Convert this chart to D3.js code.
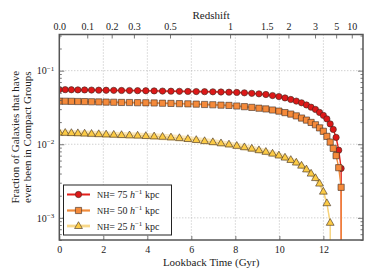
<!DOCTYPE html>
<html><head><meta charset="utf-8">
<script src="https://cdn.jsdelivr.net/npm/d3@7"></script>
<style>
html,body{margin:0;padding:0;background:#fff;}
text{font-family:"Liberation Serif","DejaVu Serif",serif;fill:#222;}
</style></head>
<body><svg id="c" width="374" height="280"></svg>
<script>
// Lookback time (Gyr) of each snapshot
const times = [0, 0.269, 0.550, 0.844, 1.149, 1.465, 1.792, 2.128, 2.474, 2.828, 3.190, 3.558, 3.932, 4.310, 4.691, 5.074, 5.458, 5.842, 6.223, 6.602, 6.977, 7.347, 7.709, 8.064, 8.410, 8.746, 9.072, 9.386, 9.689, 9.978, 10.255, 10.519, 10.769, 11.007, 11.231, 11.441, 11.640, 11.825, 11.998, 12.159, 12.309, 12.448, 12.578, 12.697, 12.806, 12.907];
const nh75 = [0.0553, 0.0552, 0.0550, 0.0548, 0.0547, 0.0545, 0.0543, 0.0542, 0.0540, 0.0538, 0.0537, 0.0535, 0.0533, 0.0531, 0.0528, 0.0526, 0.0524, 0.0522, 0.0520, 0.0518, 0.0516, 0.0513, 0.0510, 0.0506, 0.0500, 0.0492, 0.0484, 0.0474, 0.0459, 0.0445, 0.0426, 0.0406, 0.0386, 0.0366, 0.0342, 0.0319, 0.0297, 0.0271, 0.0247, 0.0221, 0.0189, 0.0159, 0.0124, 0.0083, 0.0047, 0];
const nh50 = [0.0385, 0.0384, 0.0383, 0.0381, 0.0380, 0.0378, 0.0376, 0.0374, 0.0372, 0.0370, 0.0369, 0.0367, 0.0366, 0.0364, 0.0361, 0.0359, 0.0356, 0.0354, 0.0351, 0.0347, 0.0344, 0.0340, 0.0337, 0.0331, 0.0324, 0.0317, 0.0309, 0.0302, 0.0292, 0.0282, 0.0269, 0.0257, 0.0243, 0.0227, 0.0213, 0.0198, 0.0184, 0.0167, 0.0150, 0.0128, 0.0107, 0.0088, 0.0070, 0.0048, 0.0026, 0];
const nh25 = [0.01439, 0.01430, 0.01421, 0.01413, 0.01399, 0.01386, 0.01373, 0.01360, 0.01348, 0.01335, 0.01323, 0.01311, 0.01295, 0.01279, 0.01263, 0.01239, 0.01213, 0.01179, 0.01143, 0.01104, 0.01068, 0.01031, 0.00994, 0.00951, 0.00911, 0.00872, 0.00830, 0.00789, 0.00746, 0.00704, 0.00659, 0.00612, 0.00564, 0.00512, 0.00455, 0.00399, 0.00347, 0.00292, 0.00227, 0.00158, 0.000856, 0, 0, 0, 0, 0];
const seriesNames = ["75", "50", "25"];
const relErr = [0.04, 0.04, 0.1];
// top axis: redshift labels and their lookback times
const zLabels = ["0.0", "0.1", "0.2", "0.3", "0.5", "1", "1.5", "2", "3", "5", "10"];
const zTimes = [0, 1.27, 2.38, 3.39, 5.03, 7.76, 9.43, 10.41, 11.62, 12.58, 13.29];
const xTicks = [0, 2, 4, 6, 8, 10, 12];
const yMajor = [1e-3, 1e-2, 1e-1];

const svg = d3.select("#c");
const L = 59.3, R = 363, T = 34.5, B = 240;
const x = d3.scaleLinear().domain([0, 13.8]).range([L, R]);
const y = d3.scaleLog().domain([5e-4, 0.31]).range([B, T]);

const styles = [
  {line:"#e3201b", band:"#f3a3a0", fill:"#dd1818", shape:"circle"},
  {line:"#f08a3c", band:"#f7c295", fill:"#f58a3a", shape:"square"},
  {line:"#f6d27a", band:"#fbe2a6", fill:"#fccb45", shape:"triangle"}
];
const data = [nh75, nh50, nh25];

svg.append("defs").append("clipPath").attr("id","clip")
  .append("rect").attr("x",L).attr("y",T).attr("width",R-L).attr("height",B-T);

// grid
const grid = svg.append("g").attr("stroke","#b5b5b5").attr("stroke-width",0.9).attr("stroke-dasharray","1,2");
grid.selectAll("line.gx").data(xTicks.slice(1)).join("line")
  .attr("x1",d=>x(d)).attr("x2",d=>x(d)).attr("y1",T).attr("y2",B);
grid.selectAll("line.gy").data(yMajor).join("line")
  .attr("x1",L).attr("x2",R).attr("y1",d=>y(d)).attr("y2",d=>y(d));

const yv = v => v > 0 ? y(v) : B + 1000;
const plot = svg.append("g").attr("clip-path","url(#clip)");

function markerPath(shape){
  if(shape==="circle") return d3.symbol(d3.symbolCircle, Math.PI*3.15*3.15)();
  if(shape==="square") return d3.symbol(d3.symbolSquare, 6.2*6.2)();
  return `M0,${-4.3}L${3.9},${2.5}L${-3.9},${2.5}Z`;
}

data.forEach((vals, si) => {
  const st = styles[si], e = relErr[si];
  const pts = times.map((t,i)=>({t, v: vals[i], i}));
  const def = d => d.v > 0 || (d.i>0 && vals[d.i-1] > 0);
  const area = d3.area().defined(def).x(d=>x(d.t))
    .y0(d=>yv(d.v*(1-e))).y1(d=>yv(d.v*(1+e)));
  plot.append("path").datum(pts).attr("d",area).attr("fill",st.band).attr("opacity",0.75);
  const line = d3.line().defined(def).x(d=>x(d.t)).y(d=>yv(d.v));
  plot.append("path").datum(pts).attr("d",line).attr("fill","none")
    .attr("stroke",st.line).attr("stroke-width",1.4);
  plot.selectAll(null).data(pts.filter(d=>d.v>0)).join("path")
    .attr("d", markerPath(st.shape))
    .attr("transform",d=>`translate(${x(d.t)},${y(d.v)})`)
    .attr("fill",st.fill).attr("stroke","#3a2a22").attr("stroke-width",0.6);
});

// axes
const axisCol = "#555";
function styleAxis(g){
  g.select(".domain").remove();
  g.selectAll(".tick line").attr("stroke",axisCol).attr("stroke-width",0.8);
  g.selectAll(".tick text").attr("font-size","10px").attr("fill","#222");
}
svg.append("g").attr("transform",`translate(0,${B})`)
  .call(d3.axisBottom(x).tickValues(xTicks).tickFormat(d3.format("d")).tickSize(-4).tickPadding(6))
  .call(styleAxis);
svg.append("g").attr("transform",`translate(0,${T})`)
  .call(d3.axisTop(x).tickValues(zTimes).tickFormat((d,i)=>zLabels[i]).tickSize(-4).tickPadding(5))
  .call(styleAxis);

const minor = [];
[1e-4,1e-3,1e-2,1e-1].forEach(b=>{for(let k=2;k<=9;k++){const v=b*k; if(v>=5e-4 && v<=0.31) minor.push(v);}});
const yl = svg.append("g").attr("transform",`translate(${L},0)`)
  .call(d3.axisLeft(y).tickValues(yMajor).tickSize(-5).tickPadding(5).tickFormat(""))
  .call(styleAxis);
yl.selectAll(".tick text").each(function(d){
  const t = d3.select(this); t.text(null);
  t.append("tspan").text("10");
  t.append("tspan").attr("dy","-0.55em").attr("font-size","7px").text("\u2212"+Math.round(-Math.log10(d)));
});
svg.append("g").attr("transform",`translate(${L},0)`)
  .call(d3.axisLeft(y).tickValues(minor).tickSize(-2.5).tickFormat("")).call(styleAxis);
svg.append("g").attr("transform",`translate(${R},0)`)
  .call(d3.axisRight(y).tickValues(yMajor).tickSize(-5).tickFormat("")).call(styleAxis);
svg.append("g").attr("transform",`translate(${R},0)`)
  .call(d3.axisRight(y).tickValues(minor).tickSize(-2.5).tickFormat("")).call(styleAxis);

svg.append("rect").attr("x",L).attr("y",T).attr("width",R-L).attr("height",B-T)
  .attr("fill","none").attr("stroke",axisCol).attr("stroke-width",1.5);

// labels
svg.append("text").attr("x",(L+R)/2).attr("y",266).attr("text-anchor","middle")
  .attr("font-size","11px").text("Lookback Time (Gyr)");
svg.append("text").attr("x",(L+R)/2).attr("y",18.5).attr("text-anchor","middle")
  .attr("font-size","11px").text("Redshift");
const yc = (T+B)/2;
svg.append("text").attr("transform",`translate(18.5,${yc}) rotate(-90)`).attr("text-anchor","middle")
  .attr("font-size","11px").text("Fraction of Galaxies that have");
svg.append("text").attr("transform",`translate(31,${yc}) rotate(-90)`).attr("text-anchor","middle")
  .attr("font-size","11px").text("ever been in Compact Groups");

// legend
const lg = svg.append("g");
lg.append("rect").attr("x",63.5).attr("y",185).attr("width",108).attr("height",50)
  .attr("fill","#fff").attr("stroke","#222").attr("stroke-width",1);
const rowY = [194.5, 210.5, 226];
seriesNames.forEach((n,i)=>{
  const st = styles[i], ry = rowY[i];
  lg.append("line").attr("x1",67).attr("x2",90).attr("y1",ry).attr("y2",ry)
    .attr("stroke",st.band).attr("stroke-width",3);
  lg.append("line").attr("x1",67).attr("x2",90).attr("y1",ry).attr("y2",ry)
    .attr("stroke",st.line).attr("stroke-width",1.3);
  lg.append("path").attr("d",markerPath(st.shape)).attr("transform",`translate(78.5,${ry})`)
    .attr("fill",st.fill).attr("stroke","#3a2a22").attr("stroke-width",0.6);
  const t = lg.append("text").attr("x",97).attr("y",ry+3.5).attr("font-size","10px");
  t.append("tspan").attr("font-size","8.5px").text("NH");
  t.append("tspan").text("= "+n+" ");
  t.append("tspan").attr("font-style","italic").text("h");
  t.append("tspan").attr("dy","-4").attr("font-size","7px").text("\u22121");
  t.append("tspan").attr("dy","4").text(" kpc");
});
</script></body></html>
